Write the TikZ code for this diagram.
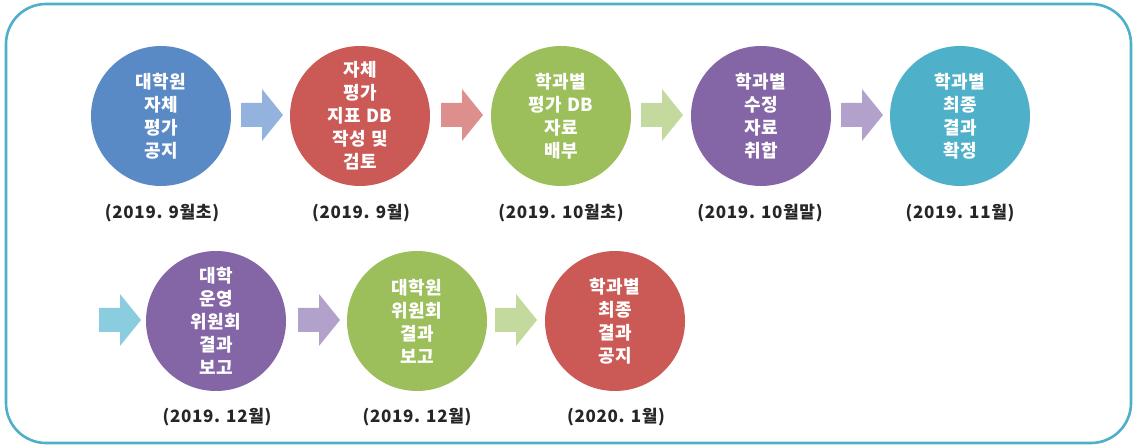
\documentclass[tikz,border=0pt]{standalone}
\usepackage{fontspec}
\newfontfamily\kr{Noto Sans CJK KR}[LetterSpace=4]
\usetikzlibrary{calc}
\definecolor{cblue}{HTML}{5A8AC6}
\definecolor{cred}{HTML}{CB5A56}
\definecolor{cgreen}{HTML}{9CBF5C}
\definecolor{cpurple}{HTML}{8466A6}
\definecolor{cteal}{HTML}{4FB1C9}
\definecolor{ablue}{HTML}{93B3DE}
\definecolor{ared}{HTML}{DC8F8D}
\definecolor{agreen}{HTML}{C4D99E}
\definecolor{apurple}{HTML}{B2A1CA}
\definecolor{ateal}{HTML}{8ACDDE}
\definecolor{frame}{HTML}{4DAFC8}
\tikzset{
  stepcircle/.style={circle, minimum size=140pt, inner sep=0pt, fill=#1,
    text=white, align=center, font=\kr\bfseries\fontsize{18}{23}\selectfont},
  datelabel/.style={font=\kr\bfseries\fontsize{17}{20}\selectfont, text=black!85},
}
\newcommand{\blockarr}[2]{%
  \fill[#2] ($(#1)+(-21,-12)$) -- ($(#1)+(0,-12)$) -- ($(#1)+(0,-26)$) --
    ($(#1)+(21,0)$) -- ($(#1)+(0,26)$) -- ($(#1)+(0,12)$) -- ($(#1)+(-21,12)$) -- cycle;}
\begin{document}
\begin{tikzpicture}[x=1pt,y=-1pt]
\useasboundingbox (0,0) rectangle (1133,446);
\draw[frame, line width=2.6pt, rounded corners=40pt] (6,4) rectangle (1131,443);
% row 1
\node[stepcircle=cblue] (c1) at (161,116) {대학원\\자체\\평가\\공지};
\node[stepcircle=cred] (c2) at (360,116) {자체\\평가\\지표 DB\\작성 및\\검토};
\node[stepcircle=cgreen] (c3) at (561,116) {학과별\\평가 DB\\자료\\배부};
\node[stepcircle=cpurple] (c4) at (761,116) {학과별\\수정\\자료\\취합};
\node[stepcircle=cteal] (c5) at (960,116) {학과별\\최종\\결과\\확정};
\node[datelabel] (d1) at (162,213) {(2019. 9월초)};
\node[datelabel] (d2) at (361,213) {(2019. 9월)};
\node[datelabel] (d3) at (561,213) {(2019. 10월초)};
\node[datelabel] (d4) at (760,213) {(2019. 10월말)};
\node[datelabel] (d5) at (960,213) {(2019. 11월)};
% row 2
\node[stepcircle=cpurple] (c6) at (216,321) {대학\\운영\\위원회\\결과\\보고};
\node[stepcircle=cgreen] (c7) at (417,321) {대학원\\위원회\\결과\\보고};
\node[stepcircle=cred] (c8) at (615,321) {학과별\\최종\\결과\\공지};
\node[datelabel] (d6) at (217,417) {(2019. 12월)};
\node[datelabel] (d7) at (417,417) {(2019. 12월)};
\node[datelabel] (d8) at (616,417) {(2020. 1월)};
% arrows
\coordinate (a1) at (262,115);
\coordinate (a2) at (462,115);
\coordinate (a3) at (662,115);
\coordinate (a4) at (862,115);
\coordinate (a5) at (120,320);
\coordinate (a6) at (319,320);
\coordinate (a7) at (516,320);
\blockarr{a1}{ablue}
\blockarr{a2}{ared}
\blockarr{a3}{agreen}
\blockarr{a4}{apurple}
\blockarr{a5}{ateal}
\blockarr{a6}{apurple}
\blockarr{a7}{agreen}
\end{tikzpicture}
\end{document}
